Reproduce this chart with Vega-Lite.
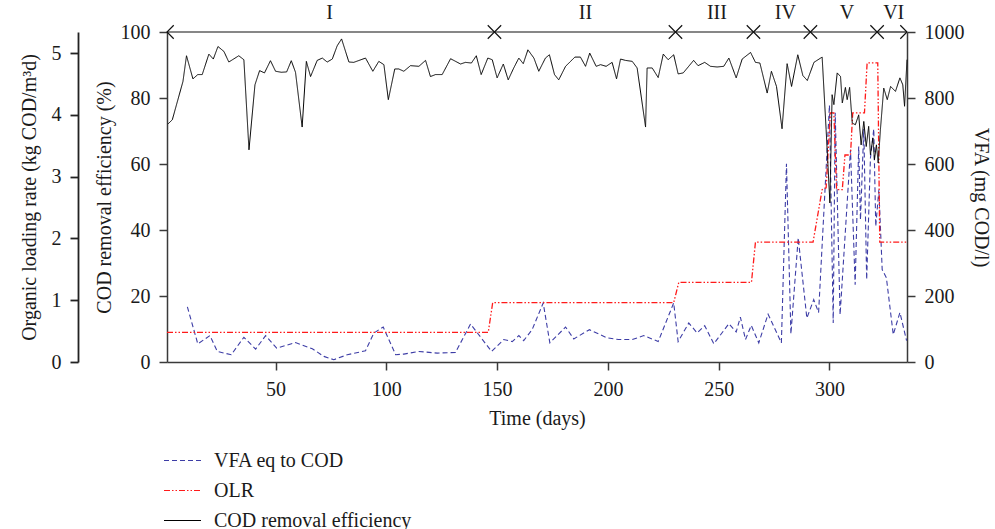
{
  "$schema": "https://vega.github.io/schema/vega-lite/v6.json",
  "width": 740,
  "height": 330,
  "autosize": {"type": "none"},
  "padding": {"left": 167, "top": 32, "right": 88, "bottom": 167},
  "background": "white",
  "config": {
    "font": "Liberation Serif",
    "view": {"stroke": null},
    "axis": {
      "grid": false,
      "domainColor": "#3a3a3a",
      "domainWidth": 1.5,
      "tickColor": "#3a3a3a",
      "tickWidth": 1.5,
      "tickSize": 8,
      "labelFontSize": 20,
      "titleFontSize": 20,
      "titleFontWeight": "normal",
      "labelColor": "#1a1a1a",
      "titleColor": "#1a1a1a",
      "labelPadding": 9,
      "labelFont": "Liberation Serif",
      "titleFont": "Liberation Serif"
    },
    "legend": {
      "labelFont": "Liberation Serif",
      "labelFontSize": 20,
      "labelColor": "#1a1a1a",
      "labelLimit": 400,
      "symbolType": "stroke",
      "symbolSize": 1369,
      "symbolStrokeWidth": 1.2,
      "labelOffset": 12,
      "rowPadding": 0,
      "padding": 0
    }
  },
  "datasets": {
    "phases": [
      {"phase": "I", "start": 1, "end": 148.8, "mid": 74.4},
      {"phase": "II", "start": 148.8, "end": 230.5, "mid": 189.9},
      {"phase": "III", "start": 230.5, "end": 265.7, "mid": 249.2},
      {"phase": "IV", "start": 265.7, "end": 291.4, "mid": 280.1},
      {"phase": "V", "start": 291.4, "end": 321.5, "mid": 307.9},
      {"phase": "VI", "start": 321.5, "end": 335, "mid": 329.0}
    ],
    "vfa": [
      {"series": "VFA eq to COD", "day": 10.2, "value": 167},
      {"series": "VFA eq to COD", "day": 14.9, "value": 55},
      {"series": "VFA eq to COD", "day": 20.4, "value": 80},
      {"series": "VFA eq to COD", "day": 23.7, "value": 32},
      {"series": "VFA eq to COD", "day": 30.0, "value": 22},
      {"series": "VFA eq to COD", "day": 35.7, "value": 75},
      {"series": "VFA eq to COD", "day": 41.0, "value": 39},
      {"series": "VFA eq to COD", "day": 45.5, "value": 80},
      {"series": "VFA eq to COD", "day": 50.5, "value": 42},
      {"series": "VFA eq to COD", "day": 59.0, "value": 59},
      {"series": "VFA eq to COD", "day": 66.6, "value": 40},
      {"series": "VFA eq to COD", "day": 71.8, "value": 17},
      {"series": "VFA eq to COD", "day": 76.3, "value": 7},
      {"series": "VFA eq to COD", "day": 82.4, "value": 22},
      {"series": "VFA eq to COD", "day": 90.6, "value": 34},
      {"series": "VFA eq to COD", "day": 94.4, "value": 88},
      {"series": "VFA eq to COD", "day": 98.6, "value": 106},
      {"series": "VFA eq to COD", "day": 104.2, "value": 22},
      {"series": "VFA eq to COD", "day": 107.9, "value": 24},
      {"series": "VFA eq to COD", "day": 114.7, "value": 32},
      {"series": "VFA eq to COD", "day": 123.0, "value": 27},
      {"series": "VFA eq to COD", "day": 131.2, "value": 29},
      {"series": "VFA eq to COD", "day": 138.0, "value": 115},
      {"series": "VFA eq to COD", "day": 147.5, "value": 32},
      {"series": "VFA eq to COD", "day": 153.0, "value": 68},
      {"series": "VFA eq to COD", "day": 156.8, "value": 62},
      {"series": "VFA eq to COD", "day": 159.8, "value": 80},
      {"series": "VFA eq to COD", "day": 162.0, "value": 65},
      {"series": "VFA eq to COD", "day": 165.8, "value": 98},
      {"series": "VFA eq to COD", "day": 170.8, "value": 179},
      {"series": "VFA eq to COD", "day": 173.8, "value": 58},
      {"series": "VFA eq to COD", "day": 180.9, "value": 106},
      {"series": "VFA eq to COD", "day": 184.6, "value": 70},
      {"series": "VFA eq to COD", "day": 191.7, "value": 98},
      {"series": "VFA eq to COD", "day": 199.7, "value": 73},
      {"series": "VFA eq to COD", "day": 204.9, "value": 68},
      {"series": "VFA eq to COD", "day": 211.0, "value": 68},
      {"series": "VFA eq to COD", "day": 216.2, "value": 80},
      {"series": "VFA eq to COD", "day": 222.7, "value": 62},
      {"series": "VFA eq to COD", "day": 229.7, "value": 179},
      {"series": "VFA eq to COD", "day": 231.7, "value": 62},
      {"series": "VFA eq to COD", "day": 236.5, "value": 118},
      {"series": "VFA eq to COD", "day": 240.3, "value": 88},
      {"series": "VFA eq to COD", "day": 243.7, "value": 110},
      {"series": "VFA eq to COD", "day": 247.8, "value": 55},
      {"series": "VFA eq to COD", "day": 254.6, "value": 116},
      {"series": "VFA eq to COD", "day": 257.9, "value": 91},
      {"series": "VFA eq to COD", "day": 259.8, "value": 136},
      {"series": "VFA eq to COD", "day": 262.1, "value": 68},
      {"series": "VFA eq to COD", "day": 264.7, "value": 111},
      {"series": "VFA eq to COD", "day": 268.1, "value": 58},
      {"series": "VFA eq to COD", "day": 272.3, "value": 145},
      {"series": "VFA eq to COD", "day": 278.3, "value": 58},
      {"series": "VFA eq to COD", "day": 280.6, "value": 601},
      {"series": "VFA eq to COD", "day": 282.6, "value": 85},
      {"series": "VFA eq to COD", "day": 285.9, "value": 376},
      {"series": "VFA eq to COD", "day": 289.8, "value": 133},
      {"series": "VFA eq to COD", "day": 292.9, "value": 189},
      {"series": "VFA eq to COD", "day": 295.1, "value": 150},
      {"series": "VFA eq to COD", "day": 300.0, "value": 778},
      {"series": "VFA eq to COD", "day": 301.7, "value": 118},
      {"series": "VFA eq to COD", "day": 302.6, "value": 755},
      {"series": "VFA eq to COD", "day": 304.8, "value": 143},
      {"series": "VFA eq to COD", "day": 309.5, "value": 643},
      {"series": "VFA eq to COD", "day": 311.6, "value": 234},
      {"series": "VFA eq to COD", "day": 313.2, "value": 653},
      {"series": "VFA eq to COD", "day": 314.0, "value": 431},
      {"series": "VFA eq to COD", "day": 315.5, "value": 706},
      {"series": "VFA eq to COD", "day": 316.8, "value": 250},
      {"series": "VFA eq to COD", "day": 318.5, "value": 618},
      {"series": "VFA eq to COD", "day": 320.0, "value": 706},
      {"series": "VFA eq to COD", "day": 320.9, "value": 411},
      {"series": "VFA eq to COD", "day": 322.3, "value": 522},
      {"series": "VFA eq to COD", "day": 323.8, "value": 280},
      {"series": "VFA eq to COD", "day": 325.7, "value": 255},
      {"series": "VFA eq to COD", "day": 328.8, "value": 83},
      {"series": "VFA eq to COD", "day": 331.8, "value": 150},
      {"series": "VFA eq to COD", "day": 334.8, "value": 65}
    ],
    "olr": [
      {"series": "OLR", "day": 1, "value": 0.48},
      {"series": "OLR", "day": 146, "value": 0.48},
      {"series": "OLR", "day": 148, "value": 0.96},
      {"series": "OLR", "day": 229.7, "value": 0.96},
      {"series": "OLR", "day": 232, "value": 1.29},
      {"series": "OLR", "day": 264.8, "value": 1.29},
      {"series": "OLR", "day": 266.6, "value": 1.94},
      {"series": "OLR", "day": 292.6, "value": 1.94},
      {"series": "OLR", "day": 296.7, "value": 2.79},
      {"series": "OLR", "day": 298.5, "value": 2.82},
      {"series": "OLR", "day": 300.4, "value": 4.03},
      {"series": "OLR", "day": 302, "value": 4.03},
      {"series": "OLR", "day": 303.2, "value": 2.79},
      {"series": "OLR", "day": 305.8, "value": 2.79},
      {"series": "OLR", "day": 307, "value": 3.35},
      {"series": "OLR", "day": 309.5, "value": 3.35},
      {"series": "OLR", "day": 310.5, "value": 4.03},
      {"series": "OLR", "day": 315.8, "value": 4.03},
      {"series": "OLR", "day": 317, "value": 4.84},
      {"series": "OLR", "day": 321.8, "value": 4.84},
      {"series": "OLR", "day": 322.7, "value": 1.94},
      {"series": "OLR", "day": 335, "value": 1.94}
    ],
    "cod": [
      {"series": "COD removal efficiency", "day": 1.4, "value": 72.1},
      {"series": "COD removal efficiency", "day": 3.4, "value": 73.4},
      {"series": "COD removal efficiency", "day": 8.2, "value": 85.0},
      {"series": "COD removal efficiency", "day": 9.8, "value": 92.8},
      {"series": "COD removal efficiency", "day": 12.7, "value": 85.8},
      {"series": "COD removal efficiency", "day": 14.9, "value": 87.1},
      {"series": "COD removal efficiency", "day": 16.9, "value": 87.1},
      {"series": "COD removal efficiency", "day": 19.9, "value": 93.3},
      {"series": "COD removal efficiency", "day": 21.9, "value": 91.8},
      {"series": "COD removal efficiency", "day": 24.0, "value": 95.6},
      {"series": "COD removal efficiency", "day": 26.7, "value": 94.1},
      {"series": "COD removal efficiency", "day": 28.9, "value": 90.9},
      {"series": "COD removal efficiency", "day": 33.4, "value": 92.8},
      {"series": "COD removal efficiency", "day": 35.7, "value": 91.6},
      {"series": "COD removal efficiency", "day": 38.0, "value": 64.3},
      {"series": "COD removal efficiency", "day": 40.7, "value": 84.0},
      {"series": "COD removal efficiency", "day": 42.8, "value": 88.3},
      {"series": "COD removal efficiency", "day": 45.0, "value": 87.6},
      {"series": "COD removal efficiency", "day": 47.7, "value": 91.3},
      {"series": "COD removal efficiency", "day": 50.0, "value": 88.1},
      {"series": "COD removal efficiency", "day": 52.6, "value": 87.8},
      {"series": "COD removal efficiency", "day": 55.0, "value": 87.9},
      {"series": "COD removal efficiency", "day": 57.1, "value": 91.3},
      {"series": "COD removal efficiency", "day": 59.0, "value": 87.8},
      {"series": "COD removal efficiency", "day": 62.0, "value": 71.2},
      {"series": "COD removal efficiency", "day": 63.9, "value": 91.1},
      {"series": "COD removal efficiency", "day": 65.8, "value": 86.5},
      {"series": "COD removal efficiency", "day": 68.8, "value": 91.4},
      {"series": "COD removal efficiency", "day": 71.1, "value": 92.1},
      {"series": "COD removal efficiency", "day": 73.3, "value": 90.9},
      {"series": "COD removal efficiency", "day": 75.6, "value": 91.8},
      {"series": "COD removal efficiency", "day": 77.8, "value": 95.8},
      {"series": "COD removal efficiency", "day": 79.8, "value": 97.9},
      {"series": "COD removal efficiency", "day": 83.1, "value": 90.9},
      {"series": "COD removal efficiency", "day": 85.3, "value": 90.8},
      {"series": "COD removal efficiency", "day": 90.6, "value": 92.1},
      {"series": "COD removal efficiency", "day": 93.9, "value": 88.1},
      {"series": "COD removal efficiency", "day": 96.6, "value": 91.1},
      {"series": "COD removal efficiency", "day": 98.9, "value": 90.1},
      {"series": "COD removal efficiency", "day": 100.9, "value": 79.5},
      {"series": "COD removal efficiency", "day": 103.8, "value": 88.8},
      {"series": "COD removal efficiency", "day": 105.6, "value": 88.8},
      {"series": "COD removal efficiency", "day": 107.9, "value": 88.1},
      {"series": "COD removal efficiency", "day": 110.9, "value": 89.8},
      {"series": "COD removal efficiency", "day": 114.7, "value": 89.6},
      {"series": "COD removal efficiency", "day": 117.7, "value": 91.4},
      {"series": "COD removal efficiency", "day": 119.9, "value": 86.5},
      {"series": "COD removal efficiency", "day": 122.2, "value": 87.1},
      {"series": "COD removal efficiency", "day": 125.2, "value": 87.1},
      {"series": "COD removal efficiency", "day": 129.0, "value": 91.9},
      {"series": "COD removal efficiency", "day": 133.5, "value": 90.3},
      {"series": "COD removal efficiency", "day": 135.7, "value": 90.8},
      {"series": "COD removal efficiency", "day": 138.4, "value": 90.6},
      {"series": "COD removal efficiency", "day": 140.6, "value": 92.8},
      {"series": "COD removal efficiency", "day": 142.8, "value": 87.1},
      {"series": "COD removal efficiency", "day": 145.8, "value": 92.1},
      {"series": "COD removal efficiency", "day": 147.8, "value": 91.6},
      {"series": "COD removal efficiency", "day": 150.0, "value": 86.1},
      {"series": "COD removal efficiency", "day": 152.8, "value": 90.3},
      {"series": "COD removal efficiency", "day": 155.0, "value": 85.5},
      {"series": "COD removal efficiency", "day": 157.5, "value": 89.1},
      {"series": "COD removal efficiency", "day": 159.8, "value": 92.1},
      {"series": "COD removal efficiency", "day": 161.8, "value": 90.4},
      {"series": "COD removal efficiency", "day": 163.9, "value": 94.6},
      {"series": "COD removal efficiency", "day": 166.6, "value": 92.1},
      {"series": "COD removal efficiency", "day": 168.8, "value": 88.1},
      {"series": "COD removal efficiency", "day": 171.8, "value": 92.1},
      {"series": "COD removal efficiency", "day": 173.6, "value": 93.1},
      {"series": "COD removal efficiency", "day": 175.9, "value": 87.1},
      {"series": "COD removal efficiency", "day": 177.8, "value": 85.5},
      {"series": "COD removal efficiency", "day": 180.9, "value": 89.6},
      {"series": "COD removal efficiency", "day": 185.1, "value": 92.4},
      {"series": "COD removal efficiency", "day": 187.6, "value": 92.4},
      {"series": "COD removal efficiency", "day": 189.9, "value": 89.6},
      {"series": "COD removal efficiency", "day": 191.8, "value": 93.6},
      {"series": "COD removal efficiency", "day": 194.7, "value": 89.6},
      {"series": "COD removal efficiency", "day": 196.7, "value": 90.1},
      {"series": "COD removal efficiency", "day": 199.2, "value": 89.6},
      {"series": "COD removal efficiency", "day": 201.9, "value": 90.8},
      {"series": "COD removal efficiency", "day": 203.9, "value": 85.8},
      {"series": "COD removal efficiency", "day": 205.7, "value": 91.8},
      {"series": "COD removal efficiency", "day": 207.9, "value": 91.4},
      {"series": "COD removal efficiency", "day": 211.0, "value": 91.1},
      {"series": "COD removal efficiency", "day": 213.2, "value": 89.1},
      {"series": "COD removal efficiency", "day": 217.0, "value": 71.2},
      {"series": "COD removal efficiency", "day": 217.7, "value": 89.1},
      {"series": "COD removal efficiency", "day": 220.0, "value": 89.1},
      {"series": "COD removal efficiency", "day": 222.7, "value": 86.2},
      {"series": "COD removal efficiency", "day": 225.0, "value": 93.3},
      {"series": "COD removal efficiency", "day": 227.2, "value": 91.6},
      {"series": "COD removal efficiency", "day": 229.7, "value": 93.1},
      {"series": "COD removal efficiency", "day": 231.7, "value": 87.3},
      {"series": "COD removal efficiency", "day": 234.0, "value": 87.6},
      {"series": "COD removal efficiency", "day": 238.7, "value": 91.4},
      {"series": "COD removal efficiency", "day": 240.7, "value": 89.8},
      {"series": "COD removal efficiency", "day": 243.7, "value": 90.8},
      {"series": "COD removal efficiency", "day": 246.3, "value": 89.6},
      {"series": "COD removal efficiency", "day": 249.3, "value": 89.4},
      {"series": "COD removal efficiency", "day": 252.3, "value": 89.6},
      {"series": "COD removal efficiency", "day": 254.6, "value": 92.1},
      {"series": "COD removal efficiency", "day": 257.9, "value": 86.1},
      {"series": "COD removal efficiency", "day": 260.6, "value": 91.8},
      {"series": "COD removal efficiency", "day": 264.4, "value": 93.8},
      {"series": "COD removal efficiency", "day": 266.6, "value": 90.8},
      {"series": "COD removal efficiency", "day": 268.6, "value": 90.6},
      {"series": "COD removal efficiency", "day": 271.9, "value": 81.5},
      {"series": "COD removal efficiency", "day": 273.8, "value": 88.1},
      {"series": "COD removal efficiency", "day": 276.1, "value": 83.5},
      {"series": "COD removal efficiency", "day": 278.6, "value": 70.7},
      {"series": "COD removal efficiency", "day": 280.9, "value": 90.4},
      {"series": "COD removal efficiency", "day": 282.9, "value": 83.5},
      {"series": "COD removal efficiency", "day": 285.7, "value": 93.1},
      {"series": "COD removal efficiency", "day": 288.0, "value": 86.8},
      {"series": "COD removal efficiency", "day": 290.0, "value": 85.3},
      {"series": "COD removal efficiency", "day": 293.0, "value": 90.8},
      {"series": "COD removal efficiency", "day": 296.7, "value": 92.4},
      {"series": "COD removal efficiency", "day": 298.5, "value": 70.4},
      {"series": "COD removal efficiency", "day": 300.2, "value": 48.2},
      {"series": "COD removal efficiency", "day": 301.2, "value": 81.0},
      {"series": "COD removal efficiency", "day": 302.0, "value": 78.0},
      {"series": "COD removal efficiency", "day": 303.5, "value": 87.6},
      {"series": "COD removal efficiency", "day": 305.0, "value": 86.5},
      {"series": "COD removal efficiency", "day": 305.8, "value": 78.5},
      {"series": "COD removal efficiency", "day": 307.2, "value": 83.2},
      {"series": "COD removal efficiency", "day": 308.0, "value": 79.5},
      {"series": "COD removal efficiency", "day": 309.1, "value": 83.2},
      {"series": "COD removal efficiency", "day": 310.3, "value": 72.4},
      {"series": "COD removal efficiency", "day": 311.7, "value": 71.9},
      {"series": "COD removal efficiency", "day": 313.2, "value": 74.9},
      {"series": "COD removal efficiency", "day": 314.3, "value": 65.8},
      {"series": "COD removal efficiency", "day": 315.5, "value": 72.9},
      {"series": "COD removal efficiency", "day": 316.6, "value": 65.3},
      {"series": "COD removal efficiency", "day": 317.7, "value": 71.4},
      {"series": "COD removal efficiency", "day": 318.5, "value": 62.8},
      {"series": "COD removal efficiency", "day": 319.6, "value": 67.9},
      {"series": "COD removal efficiency", "day": 320.3, "value": 61.3},
      {"series": "COD removal efficiency", "day": 321.2, "value": 65.8},
      {"series": "COD removal efficiency", "day": 322.0, "value": 60.3},
      {"series": "COD removal efficiency", "day": 323.0, "value": 70.4},
      {"series": "COD removal efficiency", "day": 324.5, "value": 83.0},
      {"series": "COD removal efficiency", "day": 326.1, "value": 79.5},
      {"series": "COD removal efficiency", "day": 327.6, "value": 83.5},
      {"series": "COD removal efficiency", "day": 329.8, "value": 82.0},
      {"series": "COD removal efficiency", "day": 331.8, "value": 86.1},
      {"series": "COD removal efficiency", "day": 333.1, "value": 84.0},
      {"series": "COD removal efficiency", "day": 333.9, "value": 77.5},
      {"series": "COD removal efficiency", "day": 335.0, "value": 91.6}
    ]
  },
  "layer": [
    {
      "data": {"name": "vfa"},
      "mark": {"type": "line", "strokeWidth": 1.1},
      "encoding": {
        "x": {"field": "day", "type": "quantitative", "scale": {"domain": [1, 335], "nice": false, "zero": false}},
        "y": {"field": "value", "type": "quantitative", "scale": {"domain": [0, 1000], "nice": false},
          "axis": {"orient": "right", "values": [0, 200, 400, 600, 800, 1000], "format": "d", "title": "VFA (mg COD/l)", "titlePadding": 6}},
        "color": {"field": "series", "type": "nominal",
          "scale": {"domain": ["VFA eq to COD", "OLR", "COD removal efficiency"], "range": ["#3d3da6", "#ff1a1a", "#000000"]},
          "legend": {"orient": "none", "legendX": -4, "legendY": 409, "title": null}},
        "strokeDash": {"field": "series", "type": "nominal",
          "scale": {"domain": ["VFA eq to COD", "OLR", "COD removal efficiency"], "range": [[5, 3], [6, 2, 1.5, 2, 1.5, 2], [1, 0]]},
          "legend": {"orient": "none", "legendX": -4, "legendY": 409, "title": null}}
      }
    },
    {
      "data": {"name": "olr"},
      "mark": {"type": "line", "strokeWidth": 1.3},
      "encoding": {
        "x": {"field": "day", "type": "quantitative", "scale": {"domain": [1, 335], "nice": false, "zero": false}},
        "y": {"field": "value", "type": "quantitative", "scale": {"domain": [0, 5.34], "nice": false},
          "axis": {"orient": "left", "offset": 89, "values": [0, 1, 2, 3, 4, 5], "domain": true, "ticks": true, "domainColor": "#222222", "domainWidth": 1.8, "tickColor": "#222222", "tickWidth": 1.8, "title": "Organic loading rate (kg COD/m³d)", "titlePadding": 12}},
        "color": {"field": "series", "type": "nominal",
          "scale": {"domain": ["VFA eq to COD", "OLR", "COD removal efficiency"], "range": ["#3d3da6", "#ff1a1a", "#000000"]},
          "legend": {"orient": "none", "legendX": -4, "legendY": 409, "title": null}},
        "strokeDash": {"field": "series", "type": "nominal",
          "scale": {"domain": ["VFA eq to COD", "OLR", "COD removal efficiency"], "range": [[5, 3], [6, 2, 1.5, 2, 1.5, 2], [1, 0]]},
          "legend": {"orient": "none", "legendX": -4, "legendY": 409, "title": null}}
      }
    },
    {
      "layer": [
        {
          "data": {"name": "cod"},
          "mark": {"type": "line", "strokeWidth": 1},
          "encoding": {
            "x": {"field": "day", "type": "quantitative", "scale": {"domain": [1, 335], "nice": false, "zero": false},
              "axis": {"values": [50, 100, 150, 200, 250, 300], "title": "Time (days)", "titlePadding": 9}},
            "y": {"field": "value", "type": "quantitative", "scale": {"domain": [0, 100], "nice": false},
              "axis": {"orient": "left", "values": [0, 20, 40, 60, 80, 100], "title": "COD removal efficiency (%)", "titlePadding": 6}},
            "color": {"field": "series", "type": "nominal",
              "scale": {"domain": ["VFA eq to COD", "OLR", "COD removal efficiency"], "range": ["#3d3da6", "#ff1a1a", "#000000"]},
              "legend": {"orient": "none", "legendX": -4, "legendY": 409, "title": null}},
            "strokeDash": {"field": "series", "type": "nominal",
              "scale": {"domain": ["VFA eq to COD", "OLR", "COD removal efficiency"], "range": [[5, 3], [6, 2, 1.5, 2, 1.5, 2], [1, 0]]},
              "legend": {"orient": "none", "legendX": -4, "legendY": 409, "title": null}}
          }
        },
        {
          "data": {"name": "phases"},
          "mark": {"type": "rule", "color": "#111111", "strokeWidth": 1.2},
          "encoding": {
            "x": {"field": "start", "type": "quantitative", "scale": {"domain": [1, 335], "nice": false, "zero": false}},
            "x2": {"field": "end"},
            "y": {"datum": 100, "type": "quantitative"}
          }
        },
        {
          "data": {"name": "phases"},
          "mark": {"type": "point", "shape": "M1,-1L0,0L1,1", "filled": false, "size": 180, "color": "#111111", "strokeWidth": 1.2, "opacity": 1},
          "encoding": {
            "x": {"field": "start", "type": "quantitative", "scale": {"domain": [1, 335], "nice": false, "zero": false}},
            "y": {"datum": 100, "type": "quantitative"}
          }
        },
        {
          "data": {"name": "phases"},
          "mark": {"type": "point", "shape": "M-1,-1L0,0L-1,1", "filled": false, "size": 180, "color": "#111111", "strokeWidth": 1.2, "opacity": 1},
          "encoding": {
            "x": {"field": "end", "type": "quantitative", "scale": {"domain": [1, 335], "nice": false, "zero": false}},
            "y": {"datum": 100, "type": "quantitative"}
          }
        },
        {
          "data": {"name": "phases"},
          "mark": {"type": "text", "font": "Liberation Serif", "fontSize": 20, "color": "#1a1a1a", "dy": -19, "baseline": "middle", "align": "center"},
          "encoding": {
            "x": {"field": "mid", "type": "quantitative", "scale": {"domain": [1, 335], "nice": false, "zero": false}},
            "y": {"datum": 100, "type": "quantitative"},
            "text": {"field": "phase"}
          }
        }
      ]
    }
  ],
  "resolve": {"scale": {"y": "independent"}}
}
